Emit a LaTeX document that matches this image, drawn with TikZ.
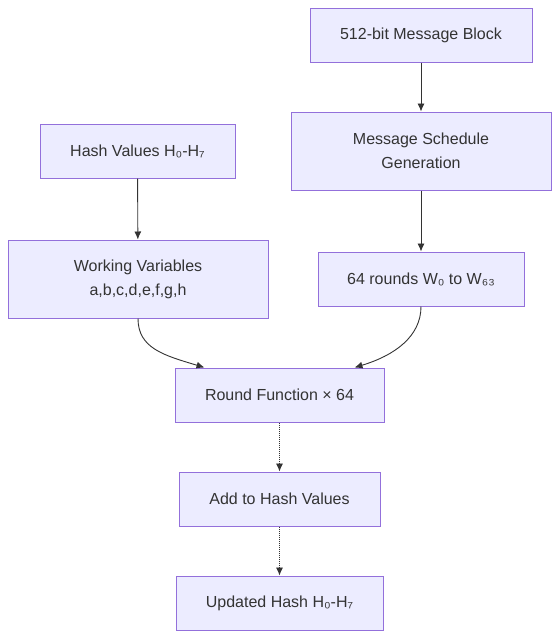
\documentclass[tikz,border=0pt]{standalone}
\usepackage{fontspec}
\setmainfont{Liberation Sans}
\usetikzlibrary{arrows.meta}
\definecolor{boxfill}{HTML}{ECECFF}
\definecolor{boxline}{HTML}{9370DB}
\definecolor{txt}{HTML}{333333}
\begin{document}
\begin{tikzpicture}[x=1pt,y=-1pt,
  box/.style={draw=boxline,fill=boxfill,line width=1pt,inner sep=0pt,
    text=txt,align=center,font=\fontsize{16}{24}\selectfont},
  link/.style={draw=txt,line width=0.9pt,-{Latex[length=8pt,width=7pt]}},
  dotlink/.style={link,dash pattern=on 1.2pt off 0.8pt}]
\useasboundingbox (0,0) rectangle (559,638);
\node[box,minimum width=222pt,minimum height=54pt] (mb) at (421,35) {512-bit Message Block};
\node[box,minimum width=260pt,minimum height=78pt] (ms) at (421,151) {Message Schedule\\Generation};
\node[box,minimum width=195pt,minimum height=54pt] (hv) at (137.5,151) {Hash Values H₀-H₇};
\node[box,minimum width=260pt,minimum height=78pt] (wv) at (138,279) {Working Variables\\a,b,c,d,e,f,g,h};
\node[box,minimum width=206pt,minimum height=54pt] (rw) at (421,279) {64 rounds W₀ to W₆₃};
\node[box,minimum width=209pt,minimum height=54pt] (rf) at (279.5,395) {Round Function × 64};
\node[box,minimum width=201pt,minimum height=54pt] (ah) at (279.5,499) {Add to Hash Values};
\node[box,minimum width=207pt,minimum height=54pt] (uh) at (279.5,603) {Updated Hash H₀-H₇};
\draw[link] (mb) -- (ms);
\draw[link] (ms) -- (rw);
\draw[link] (hv) -- (wv);
\draw[link] (wv.south) .. controls +(0,30) and +(-40,-12) .. ([xshift=-75pt]rf.north);
\draw[link] (rw.south) .. controls +(0,30) and +(40,-12) .. ([xshift=75pt]rf.north);
\draw[dotlink] (rf) -- (ah);
\draw[dotlink] (ah) -- (uh);
\end{tikzpicture}
\end{document}
